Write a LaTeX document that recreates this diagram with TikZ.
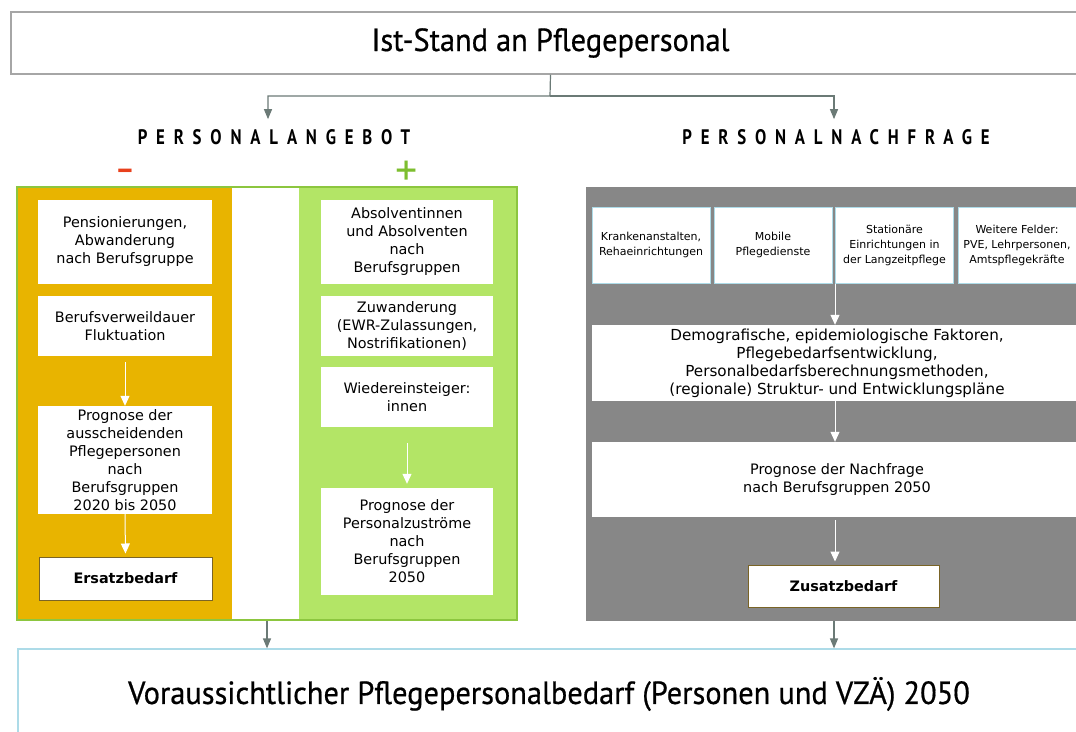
\documentclass[tikz,border=0pt]{standalone}
\usepackage{fontspec}
\setmainfont{DejaVu Sans}
\newfontfamily\titelfont[FakeStretch=0.95,FakeBold=0.6]{PT Sans}
\newfontfamily\kopffont[FakeStretch=0.8,LetterSpace=42]{PT Sans}
\newfontfamily\zeichenfont{PT Sans}
\usetikzlibrary{arrows.meta,positioning}

\definecolor{ersatzgelb}{HTML}{E8B400}
\definecolor{zugruen}{HTML}{B3E566}
\definecolor{randgruen}{HTML}{8CC63F}
\definecolor{nachgrau}{HTML}{878787}
\definecolor{pfeilgrau}{HTML}{6B7A76}
\definecolor{randgrau}{HTML}{A6A6A6}
\definecolor{randblau}{HTML}{ADDBE8}
\definecolor{randoliv}{HTML}{7A6426}
\definecolor{minusrot}{HTML}{E8401C}
\definecolor{plusgruen}{HTML}{7DBE2F}

\tikzset{
	feld/.style={fill=white, align=center, inner sep=0pt, font=\fontsize{14.4}{18}\selectfont},
	kleinfeld/.style={feld, draw=randblau, line width=1pt, minimum width=118pt, minimum height=76pt, font=\fontsize{11}{15}\selectfont},
	bedarf/.style={feld, draw=randoliv, line width=1pt, font=\fontsize{14.4}{18}\selectfont\bfseries},
	titel/.style={align=center, inner sep=0pt, font=\titelfont\fontsize{32}{36}\selectfont},
	kopf/.style={inner sep=0pt, font=\kopffont\bfseries\fontsize{21}{24}\selectfont},
	verbinder/.style={draw=pfeilgrau, line width=1.2pt, -{Triangle[width=8pt,length=10pt]}},
	weisspfeil/.style={draw=white, line width=1pt, -{Triangle[width=9pt,length=10pt]}}
}

\begin{document}
\begin{tikzpicture}[x=1pt,y=-1pt]

	\useasboundingbox (0,0) rectangle (1076,731);
	\clip (0,0) rectangle (1076,731);

	% oben
	\node[titel, draw=randgrau, line width=1.5pt, minimum width=1079pt, minimum height=62pt] (ist) at (550.5,43) {Ist-Stand an Pflegepersonal};

	\node[kopf] (angebot) at (274,137) {PERSONALANGEBOT};
	\node[kopf] (nachfrage) at (836,137) {PERSONALNACHFRAGE};
	\coordinate (verzweig) at (550,96);
	\draw[verbinder] (ist.south) -- (verzweig) -| ([yshift=10pt]angebot.north -| 268,0);
	\draw[verbinder] (verzweig) -| ([yshift=10pt]nachfrage.north -| 834,0);

	\node[text=minusrot, inner sep=0pt, font=\zeichenfont\bfseries\fontsize{30}{30}\selectfont] (minus) at (125,174) {–};
	\node[text=plusgruen, inner sep=0pt, font=\zeichenfont\fontsize{44}{44}\selectfont] (plus) at (407,173) {+};

	% Personalangebot
	\fill[ersatzgelb] (17,187) rectangle (232,620);
	\fill[zugruen] (299,187) rectangle (517,620);
	\node[draw=randgruen, line width=1.5pt, minimum width=500pt, minimum height=433pt, inner sep=0pt] (angebotfeld) at (267,403.5) {};

	\node[feld, minimum width=174pt, minimum height=84pt] (pension) at (125,242) {Pensionierungen,\\Abwanderung\\nach Berufsgruppe};
	\node[feld, minimum width=174pt, minimum height=60pt] (verweil) at (125,326) {Berufsverweildauer\\Fluktuation};
	\node[feld, minimum width=174pt, minimum height=108pt] (abgang) at (125,460) {Prognose der\\ausscheidenden\\Pflegepersonen\\nach\\Berufsgruppen\\2020 bis 2050};
	\node[bedarf, minimum width=173pt, minimum height=43pt] (ersatz) at (125.5,578.5) {Ersatzbedarf};
	\draw[weisspfeil, shorten <=6pt] (verweil.south) -- (abgang.north);
	\draw[weisspfeil, shorten >=3pt] (abgang.south) -- (ersatz.north);

	\node[feld, minimum width=172pt, minimum height=84pt] (absolvent) at (407,242) {Absolventinnen\\und Absolventen\\nach\\Berufsgruppen};
	\node[feld, minimum width=172pt, minimum height=60pt] (zuwand) at (407,326) {Zuwanderung\\(EWR-Zulassungen,\\Nostrifikationen)};
	\node[feld, minimum width=172pt, minimum height=60pt] (wieder) at (407,397) {Wiedereinsteiger:\\innen};
	\node[feld, minimum width=172pt, minimum height=107pt] (zustrom) at (407,541.5) {Prognose der\\Personalzuströme\\nach\\Berufsgruppen\\2050};
	\draw[weisspfeil, shorten <=16pt, shorten >=4pt] (wieder.south) -- (zustrom.north);

	% Personalnachfrage
	\node[fill=nachgrau, minimum width=496pt, minimum height=434pt, inner sep=0pt] (nachfragefeld) at (834,404) {};

	\node[kleinfeld] (kranken) at (651,245) {Krankenanstalten,\\Rehaeinrichtungen};
	\node[kleinfeld] (mobil) at (773,245) {Mobile\\Pflegedienste};
	\node[kleinfeld] (stationaer) at (894.5,245) {Stationäre\\Einrichtungen in\\der Langzeitpflege};
	\node[kleinfeld] (weitere) at (1017,245) {Weitere Felder:\\PVE, Lehrpersonen,\\Amtspflegekräfte};

	\node[feld, minimum width=490pt, minimum height=76pt, font=\fontsize{15.2}{18}\selectfont] (faktoren) at (837,363) {Demografische, epidemiologische Faktoren,\\Pflegebedarfsentwicklung,\\Personalbedarfsberechnungsmethoden,\\(regionale) Struktur- und Entwicklungspläne};
	\node[feld, minimum width=490pt, minimum height=75pt] (prognose) at (837,479.5) {Prognose der Nachfrage\\nach Berufsgruppen 2050};
	\node[bedarf, minimum width=191pt, minimum height=42pt] (zusatz) at (843.5,586) {Zusatzbedarf};

	\draw[weisspfeil] (stationaer.south west) -- (stationaer.south west |- faktoren.north);
	\draw[weisspfeil] (faktoren.south -| stationaer.south west) -- (prognose.north -| stationaer.south west);
	\draw[weisspfeil, shorten <=3pt, shorten >=3pt] (prognose.south -| stationaer.south west) -- (zusatz.north -| stationaer.south west);

	% unten
	\node[titel, draw=randblau, line width=1.2pt, minimum width=1062pt, minimum height=90pt] (ziel) at (549,694) {Voraussichtlicher Pflegepersonalbedarf (Personen und VZÄ) 2050};
	\draw[verbinder] (angebotfeld.south) -- (angebotfeld.south |- ziel.north);
	\draw[verbinder] (nachfragefeld.south) -- (nachfragefeld.south |- ziel.north);

\end{tikzpicture}
\end{document}
